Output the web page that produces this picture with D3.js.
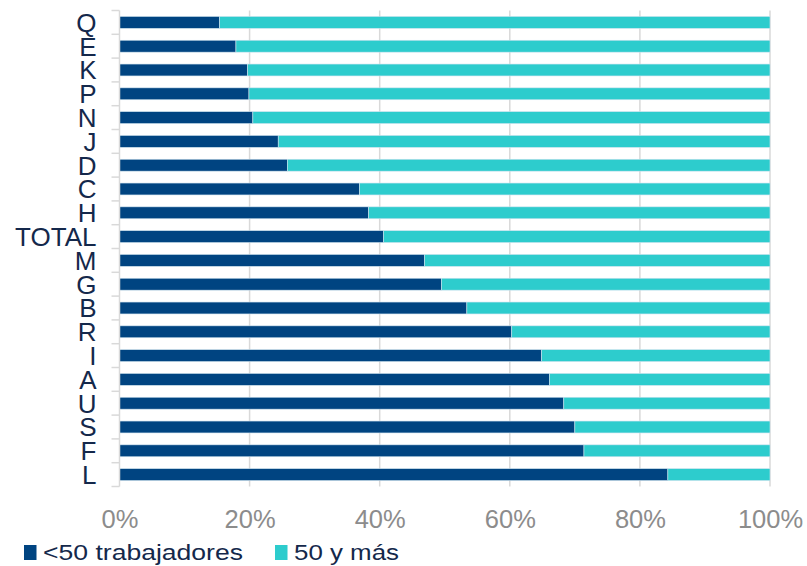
<!DOCTYPE html>
<html>
<head>
<meta charset="utf-8">
<script src="https://cdn.jsdelivr.net/npm/d3@7"></script>
<style>
  body { margin: 0; background: #fff; }
  svg { display: block; font-family: "Liberation Sans", Arial, sans-serif; }
</style>
</head>
<body>
<svg id="chart" width="807" height="566"></svg>
<script>
// categories top to bottom
let categories = ['Q', 'E', 'K', 'P', 'N', 'J', 'D', 'C', 'H', 'TOTAL', 'M', 'G', 'B', 'R', 'I', 'A', 'U', 'S', 'F', 'L'];
// share of <50 workers (%)
let smallShare = [15.4, 17.9, 19.7, 19.9, 20.5, 24.4, 25.8, 36.9, 38.3, 40.6, 46.9, 49.5, 53.4, 60.3, 64.9, 66.1, 68.3, 70.0, 71.4, 84.3];
// share of 50 and more (%)
let bigShare = smallShare.map(v => 100 - v);
let tickValues = [0, 20, 40, 60, 80, 100];
let seriesNames = ['<50 trabajadores', '50 y más'];
let seriesColors = ['#004481', '#2dcccd'];

const svg = d3.select('#chart');
const margin = { left: 119.5, right: 37, top: 10.5, bottom: 79.5 };
const width = 807 - margin.left - margin.right;
const height = 566 - margin.top - margin.bottom;

const x = d3.scaleLinear().domain([0, 100]).range([0, width]);
const y = d3.scaleBand().domain(categories).range([0, height]).paddingInner(0.5).paddingOuter(0.25);

const g = svg.append('g').attr('transform', `translate(${margin.left},${margin.top})`);

// vertical gridlines
g.selectAll('.grid')
  .data(tickValues.slice(1))
  .enter().append('line')
  .attr('x1', d => x(d)).attr('x2', d => x(d))
  .attr('y1', 0).attr('y2', height)
  .attr('stroke', '#d9d9d9').attr('stroke-width', 1.5);

// stacked bars
let rows = categories.map((c, i) => ({ cat: c, small: smallShare[i], big: bigShare[i] }));
const stack = d3.stack().keys(['small', 'big'])(rows);

g.selectAll('.series')
  .data(stack)
  .enter().append('g')
  .attr('fill', (d, i) => seriesColors[i])
  .selectAll('rect')
  .data(d => d)
  .enter().append('rect')
  .attr('x', d => x(d[0]))
  .attr('y', d => y(d.data.cat))
  .attr('width', d => x(d[1]) - x(d[0]))
  .attr('height', y.bandwidth())
  .attr('stroke', '#cfe3ef').attr('stroke-width', 0.6);

// y axis with ticks at band boundaries
const yAxis = g.append('g');
yAxis.append('line')
  .attr('x1', 0).attr('x2', 0).attr('y1', 0).attr('y2', height)
  .attr('stroke', '#d9d9d9').attr('stroke-width', 1.5);
const step = y.step();
yAxis.selectAll('.ytick')
  .data(d3.range(categories.length + 1))
  .enter().append('line')
  .attr('x1', -8).attr('x2', 0)
  .attr('y1', i => i * step).attr('y2', i => i * step)
  .attr('stroke', '#d9d9d9').attr('stroke-width', 1.5);

yAxis.selectAll('.ylabel')
  .data(categories)
  .enter().append('text')
  .attr('x', -23)
  .attr('y', d => y(d) + y.bandwidth() / 2)
  .attr('dy', '0.36em')
  .attr('text-anchor', 'end')
  .attr('font-size', 26)
  .attr('fill', '#14284b')
  .text(d => d);

// x axis labels
const xAxis = d3.axisBottom(x).tickValues(tickValues).tickFormat(d => d + '%').tickSize(0);
const xg = g.append('g').attr('transform', `translate(0,${height})`).call(xAxis);
xg.select('.domain').remove();
xg.selectAll('text')
  .attr('y', 41.5)
  .attr('dy', 0)
  .attr('font-size', 25.5)
  .attr('fill', '#8c8c8c')
  .attr('font-family', '"Liberation Sans", Arial, sans-serif');

// legend
const legend = svg.append('g').attr('transform', 'translate(24,560)');
let legendX = [0, 251];
let legendTextW = [200, 105];
seriesNames.forEach((name, i) => {
  const item = legend.append('g').attr('transform', `translate(${legendX[i]},0)`);
  item.append('rect').attr('x', 0).attr('y', -15).attr('width', 12.5).attr('height', 15).attr('fill', seriesColors[i]);
  item.append('text').attr('x', 19).attr('y', 0)
    .attr('font-size', 22.5).attr('fill', '#14284b')
    .attr('textLength', legendTextW[i]).attr('lengthAdjust', 'spacingAndGlyphs')
    .text(name);
});
</script>
</body>
</html>
